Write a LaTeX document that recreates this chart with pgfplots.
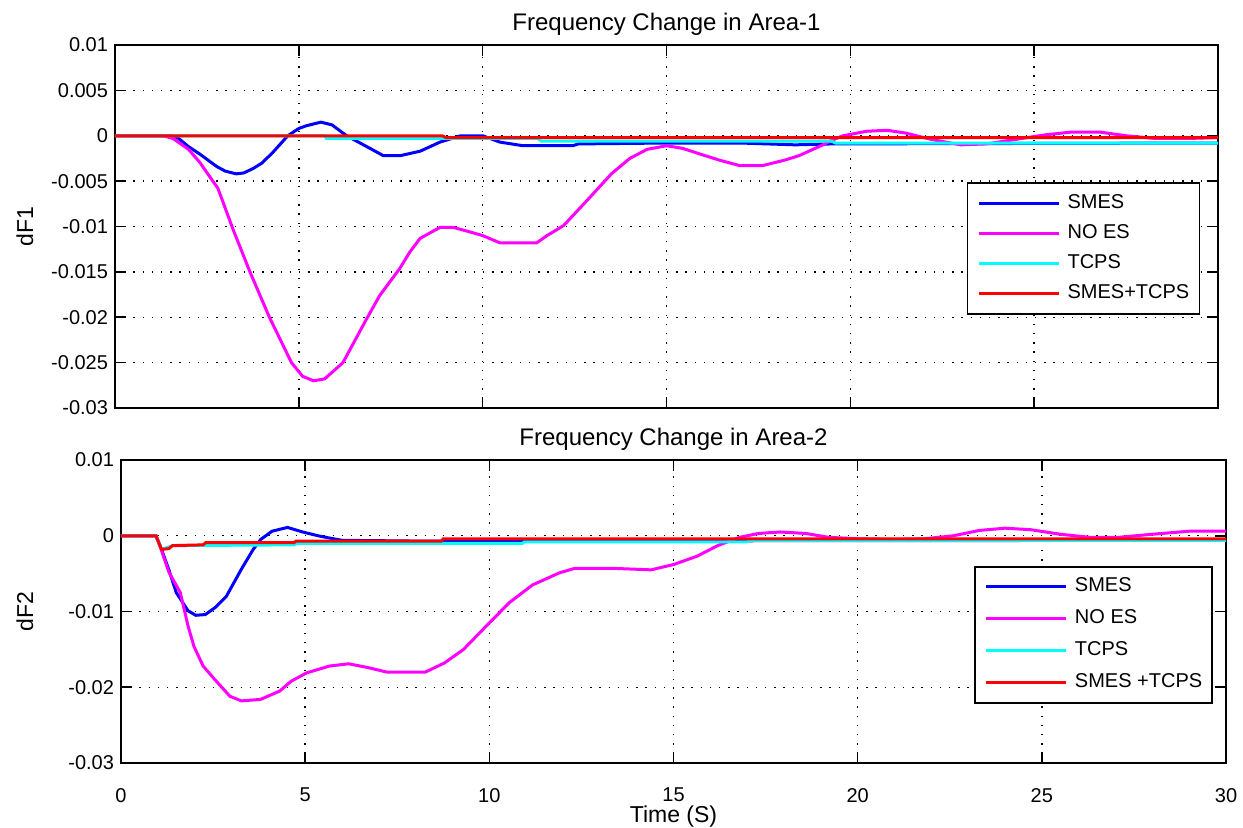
\documentclass[border=0pt]{standalone}
\usepackage{fontspec}
\setmainfont{Liberation Sans}
\usepackage{pgfplots}
\pgfplotsset{compat=1.18}

\definecolor{mblue}{RGB}{0,0,255}
\definecolor{mmag}{RGB}{255,0,255}
\definecolor{mcyan}{RGB}{0,255,255}
\definecolor{mred}{RGB}{255,0,0}

\pgfplotsset{
  matlab/.style={
    scale only axis,
    xmin=0, xmax=30, ymin=-0.03, ymax=0.01,
    xtick={0,5,10,15,20,25,30},
    scaled y ticks=false,
    tick pos=both,
    tick align=inside,
    major tick length=5.5pt,
    axis line style={line width=0.8pt},
    every tick/.style={black, line width=0.8pt},
    grid=major,
    major grid style={black, line width=0.7pt, dash pattern=on 0.7pt off 3.9pt},
    tick label style={font=\fontsize{10}{12}\selectfont},
    xticklabel style={yshift=-9pt},
    title style={font=\fontsize{12}{14}\selectfont, at={(0.5,1)}, anchor=center, yshift=4.5pt},
    label style={font=\fontsize{11.5}{14}\selectfont},
    legend image code/.code={\draw[##1] (0pt,0pt) -- (40pt,0pt);},
    legend cell align=left,
    every axis plot/.append style={line width=1.5pt, mark=none},
  }
}

\begin{document}
\begin{tikzpicture}
\path[use as bounding box] (0,0) rectangle (621.5pt,413.5pt);

% Area 1
\begin{axis}[
    matlab,
    at={(57.5pt,209.5pt)}, anchor=south west,
    width=551.5pt, height=181.5pt,
    xticklabels={},
    ytick={-0.03,-0.025,-0.02,-0.015,-0.01,-0.005,0,0.005,0.01},
    yticklabels={-0.03,-0.025,-0.02,-0.015,-0.01,-0.005,0,0.005,0.01},
    title={Frequency Change in Area-1},
    ylabel={dF1},
    ylabel style={at={(axis description cs:-0.0816,0.5)}, anchor=center},
    legend style={draw=black, line width=0.75pt, font=\fontsize{10}{12}\selectfont,
      at={(0.9837,0.6226)}, anchor=north east, inner xsep=5pt, inner ysep=5.25pt,
      row sep=5pt, column sep=3.5pt,
      nodes={inner sep=0pt, text height=7.5pt, text depth=2.5pt}},
]
\addplot[mblue] table {
0 0
1.5 0
1.7 -0.0002
2.0 -0.0012
2.3 -0.002
2.77 -0.0034
3.0 -0.0039
3.3 -0.0042
3.5 -0.0041
3.76 -0.0036
4.0 -0.003
4.3 -0.0018
4.7 0.0
5.0 0.0008
5.2 0.0011
5.6 0.0015
5.9 0.0012
6.3 0.0
6.85 -0.0012
7.3 -0.0022
7.75 -0.0022
8.3 -0.0017
8.84 -0.0007
9.4 0.0
10.0 0.0
10.47 -0.0007
11.1 -0.0011
12.45 -0.0011
12.6 -0.0009
15 -0.0008
17 -0.0008
18.5 -0.001
19.5 -0.0009
30 -0.0008
};
\addplot[mmag] table {
0 0
1.3 0
1.58 -0.0003
2.0 -0.0015
2.3 -0.0029
2.8 -0.0058
3.2 -0.0102
3.67 -0.015
4.2 -0.02
4.8 -0.025
5.1 -0.0265
5.4 -0.027
5.7 -0.0268
6.2 -0.025
6.8 -0.0205
7.2 -0.0176
7.75 -0.0146
8.02 -0.0128
8.3 -0.0113
8.84 -0.0101
9.2 -0.0101
9.57 -0.0105
10.0 -0.011
10.47 -0.0118
11.47 -0.0118
11.75 -0.011
12.2 -0.0099
12.8 -0.0073
13.5 -0.0042
14.0 -0.0025
14.47 -0.0015
15.0 -0.0011
15.45 -0.0014
15.9 -0.002
16.45 -0.0027
17.0 -0.0033
17.6 -0.0033
18.2 -0.0027
18.6 -0.0022
19.2 -0.0011
19.5 -0.0005
19.8 0.0
20.45 0.0005
21.0 0.0006
21.5 0.0003
22.2 -0.0004
23.0 -0.001
23.7 -0.0009
24.5 -0.0004
25.3 0.0001
26.0 0.0004
26.8 0.0004
27.5 0.0
28.3 -0.0003
29.2 -0.0003
30 -0.0002
};
\addplot[mcyan] table {
0 0
5.7 0
5.75 -0.0003
11.5 -0.0003
11.6 -0.0006
19.5 -0.0006
19.6 -0.0008
30 -0.0008
};
\addplot[mred] table {
0 0
8.9 0
9.0 -0.0002
30 -0.0002
};
\legend{SMES, NO ES, TCPS, SMES+TCPS}
\end{axis}

% Area 2
\begin{axis}[
    matlab,
    at={(60.5pt,32pt)}, anchor=south west,
    width=552.5pt, height=151.5pt,
    xticklabels={0,5,10,15,20,25,30},
    ytick={-0.03,-0.02,-0.01,0,0.01},
    yticklabels={-0.03,-0.02,-0.01,0,0.01},
    title={Frequency Change in Area-2},
    ylabel={dF2},
    xlabel={Time (S)},
    ylabel style={at={(axis description cs:-0.0869,0.5)}, anchor=center},
    xlabel style={at={(axis description cs:0.5,-0.178)}, anchor=center},
    legend style={draw=black, line width=0.75pt, font=\fontsize{10}{12}\selectfont,
      at={(0.9882,0.650)}, anchor=north east, inner xsep=5pt, inner ysep=5pt,
      row sep=6pt, column sep=3.5pt,
      nodes={inner sep=0pt, text height=7.5pt, text depth=2.5pt}},
]
\addplot[mblue] table {
0 0
0.95 0
1.1 -0.0018
1.3 -0.0045
1.5 -0.0075
1.82 -0.0099
2.03 -0.0105
2.29 -0.0104
2.55 -0.0095
2.86 -0.008
3.27 -0.0044
3.59 -0.0018
3.79 -0.0005
4.1 0.0006
4.52 0.0011
4.93 0.0005
5.35 0.0
5.66 -0.0003
6.0 -0.0006
8 -0.0007
30 -0.0006
};
\addplot[mmag] table {
0 0
0.95 0
1.09 -0.0018
1.3 -0.0048
1.61 -0.0075
1.82 -0.0119
1.98 -0.0146
2.23 -0.0172
2.55 -0.019
2.96 -0.0212
3.27 -0.0218
3.79 -0.0216
4.31 -0.0205
4.62 -0.0192
5.04 -0.0181
5.66 -0.0172
6.18 -0.0169
6.7 -0.0174
7.22 -0.018
8.26 -0.018
8.78 -0.0168
9.3 -0.015
9.92 -0.0119
10.55 -0.0088
11.17 -0.0065
11.9 -0.0049
12.32 -0.0043
13.35 -0.0043
14.39 -0.0045
15.0 -0.0038
15.64 -0.0027
16.2 -0.0013
16.8 -0.0002
17.3 0.0003
17.9 0.0005
18.6 0.0003
19.2 -0.0002
20 -0.0004
21 -0.0005
21.8 -0.0004
22.6 0.0
23.3 0.0007
24.0 0.001
24.7 0.0008
25.5 0.0002
26.3 -0.0002
27.1 -0.0002
28 0.0002
29 0.0006
30 0.0006
};
\addplot[mcyan] table {
0 0
0.95 0
1.1 -0.0018
1.4 -0.0013
4.7 -0.0012
4.75 -0.001
10.9 -0.001
10.95 -0.0008
17 -0.0008
17.1 -0.0006
30 -0.0006
};
\addplot[mred] table {
0 0
0.95 0
1.1 -0.0018
1.3 -0.0017
1.4 -0.0013
2.23 -0.0012
2.3 -0.0009
4.7 -0.0009
4.75 -0.0007
8.7 -0.0007
8.75 -0.0004
30 -0.0004
};
\legend{SMES, NO ES, TCPS, SMES +TCPS}
\end{axis}
\end{tikzpicture}
\end{document}
